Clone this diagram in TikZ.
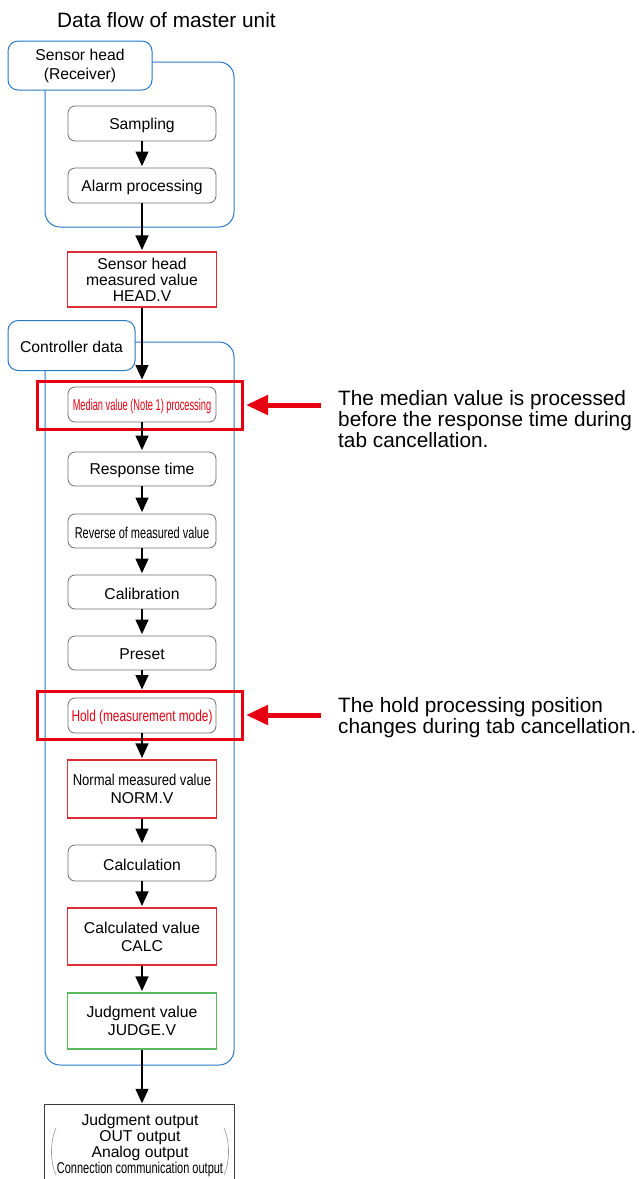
\documentclass[tikz,border=0pt]{standalone}
\usepackage{fontspec}
\setmainfont{Liberation Sans}
\usepackage{graphicx}
\usetikzlibrary{arrows.meta}
\definecolor{grpblue}{RGB}{40,120,200}
\definecolor{procgray}{RGB}{110,110,110}
\definecolor{valred}{RGB}{220,45,55}
\definecolor{hired}{RGB}{230,0,18}
\definecolor{judgegreen}{RGB}{90,185,90}
\definecolor{outgray}{RGB}{60,60,60}
\definecolor{parengray}{RGB}{150,150,150}
\newcommand\boxfont{\fontsize{15.7}{16}\selectfont}
\newcommand\notefont{\fontsize{20.8}{21}\selectfont}
\newcommand\titlefont{\fontsize{20.8}{22}\selectfont}
\newcommand\sqz[2]{\scalebox{#1}[1]{#2}}
\newcommand\dn[1]{\raisebox{-1.5pt}[\height][\depth]{#1}}
\begin{document}
\begin{tikzpicture}[x=1pt,y=-1pt,
  grp/.style={draw=grpblue, line width=1pt, rounded corners=15pt, inner sep=0pt},
  lbl/.style={draw=grpblue, line width=1pt, rounded corners=10pt, fill=white, inner sep=0pt, align=center, font=\boxfont},
  proc/.style={draw=procgray, line width=0.8pt, rounded corners=7pt, minimum width=148pt, minimum height=35pt, inner sep=0pt, fill=white, align=center, font=\boxfont},
  valbox/.style={draw=valred, line width=1.1pt, minimum width=149pt, inner sep=0pt, fill=white, align=center, font=\boxfont},
  judgebox/.style={draw=judgegreen, line width=1.1pt, minimum width=149pt, inner sep=0pt, fill=white, align=center, font=\boxfont},
  hilite/.style={draw=hired, line width=3pt, minimum width=205pt, minimum height=48pt, inner sep=0pt},
  flow/.style={line width=1.2pt, -{Triangle[length=14.5pt,width=13pt]}, shorten >=1.5pt},
  callout/.style={line width=5pt, draw=hired, -{Triangle[length=22pt,width=19pt]}, shorten >=2.5pt},
  note/.style={font=\notefont, align=left, anchor=west, inner sep=0pt}]
\useasboundingbox (0,0) rectangle (639,1179);

% title
\node[font=\titlefont, anchor=west, inner sep=0pt] (title) at (57,20) {Data flow of master unit};

% groups
\node[grp, minimum width=189pt, minimum height=165pt] (g1) at (139.5,144.5) {};
\node[lbl, minimum width=144pt, minimum height=49pt] (l1) at (80,65.5) {Sensor head\\[3pt](Receiver)};
\node[grp, minimum width=189pt, minimum height=723pt] (g2) at (139.5,703.5) {};
\node[lbl, minimum width=127pt, minimum height=50pt] (l2) at (71.5,345.5) {\dn{Controller data}};

% highlight frames
\node[hilite] (hl1) at (139.5,405) {};
\node[hilite] (hl2) at (139.5,715) {};

% process boxes
\node[proc] (samp) at (142,123.5) {\dn{Sampling}};
\node[proc] (alarm) at (142,185.5) {\dn{Alarm processing}};
\node[valbox, minimum height=55pt] (headv) at (142,279.5) {Sensor head\\measured value\\HEAD.V};
\node[proc, text=hired] (median) at (142,404.5) {\dn{\sqz{0.59}{Median value (Note 1) processing}}};
\node[proc, minimum height=34pt] (resp) at (142,469) {\dn{Response time}};
\node[proc, minimum height=34pt] (rev) at (142,531) {\dn{\sqz{0.70}{Reverse of measured value}}};
\node[proc, minimum height=34pt] (calib) at (142,592) {\dn{Calibration}};
\node[proc, minimum height=34pt] (preset) at (142,653) {\dn{Preset}};
\node[proc, text=hired] (hold) at (142,715.5) {\dn{\sqz{0.755}{Hold (measurement mode)}}};
\node[valbox, minimum height=58pt] (normv) at (142,789) {\sqz{0.83}{Normal measured value}\\[1.5pt]NORM.V};
\node[proc, minimum height=36pt] (calc) at (142,863) {\dn{Calculation}};
\node[valbox, minimum height=57pt] (calcv) at (142,936.5) {Calculated value\\[2pt]CALC};
\node[judgebox, minimum height=56pt] (judge) at (142,1021) {Judgment value\\[2pt]JUDGE.V};

% output box (open at bottom)
\node[minimum width=189pt, minimum height=74pt, inner sep=0pt] (outbox) at (139.5,1142) {};
\draw[outgray, line width=1pt] (outbox.south west) -- (outbox.north west) -- (outbox.north east) -- (outbox.south east);
\node[font=\boxfont, align=center, inner sep=0pt] (outtxt) at (140,1145) {Judgment output\\OUT output\\Analog output\\\sqz{0.70}{Connection communication output}};
\draw[parengray, line width=0.6pt] (56,1128) .. controls (50,1141) and (50,1162) .. (56,1175);
\draw[parengray, line width=0.6pt] (224,1128) .. controls (230,1141) and (230,1162) .. (224,1175);

% flow arrows
\draw[flow] (samp.south) -- (alarm.north);
\draw[flow] (alarm.south) -- (headv.north);
\draw[flow, shorten >=0pt] (headv.south) -- (headv.south |- hl1.north);
\draw[flow] (median.south) -- (resp.north);
\draw[flow] (resp.south) -- (rev.north);
\draw[flow] (rev.south) -- (calib.north);
\draw[flow] (calib.south) -- (preset.north);
\draw[flow, shorten >=0pt] (preset.south) -- (preset.south |- hl2.north);
\draw[flow] (hold.south) -- (normv.north);
\draw[flow] (normv.south) -- (calc.north);
\draw[flow] (calc.south) -- (calcv.north);
\draw[flow] (calcv.south) -- (judge.north);
\draw[flow] (judge.south) -- (judge.south |- outbox.north);

% callouts
\coordinate (c1) at (321,405);
\coordinate (c2) at (321,715);
\draw[callout] (c1) -- (hl1.east);
\draw[callout] (c2) -- (hl2.east);
\node[note] (n1) at (338,419.5) {The median value is processed\\before the response time during\\tab cancellation.};
\node[note] (n2) at (338,717.5) {The hold processing position\\changes during tab cancellation.};
\end{tikzpicture}
\end{document}
